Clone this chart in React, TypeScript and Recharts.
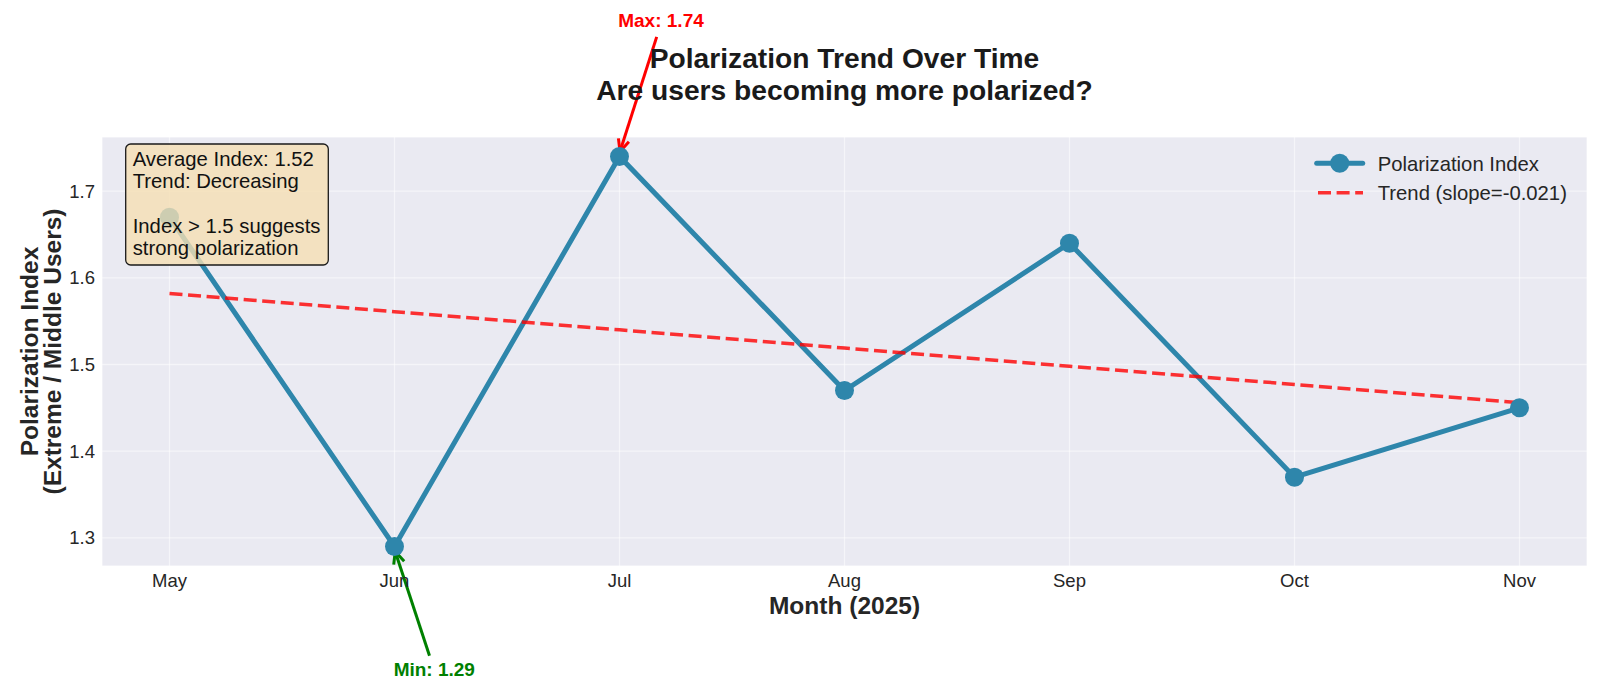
import React from 'react';
import { ComposedChart, Line, XAxis, YAxis, CartesianGrid, Legend, ReferenceDot } from 'recharts';

const months = ['May', 'Jun', 'Jul', 'Aug', 'Sep', 'Oct', 'Nov'];
const polarizationIndex = [1.67, 1.29, 1.74, 1.47, 1.64, 1.37, 1.45];
const trendValues = [1.582, 1.561, 1.54, 1.519, 1.498, 1.477, 1.456];
const xTicks = [0, 1, 2, 3, 4, 5, 6];
const yTicks = [1.3, 1.4, 1.5, 1.6, 1.7];
const titleLines = ['Polarization Trend Over Time', 'Are users becoming more polarized?'];
const yLabelLines = ['Polarization Index', '(Extreme / Middle Users)'];
const xLabelText = 'Month (2025)';
const infoLines = ['Average Index: 1.52', 'Trend: Decreasing', '', 'Index > 1.5 suggests', 'strong polarization'];
const legendLabels = ['Polarization Index', 'Trend (slope=-0.021)'];
const maxLabel = 'Max: 1.74';
const minLabel = 'Min: 1.29';

const data = months.map((m, i) => ({ x: i, month: m, value: polarizationIndex[i], trend: trendValues[i] }));
const maxIdx = polarizationIndex.indexOf(Math.max(...polarizationIndex));
const minIdx = polarizationIndex.indexOf(Math.min(...polarizationIndex));

const FONT = '"Liberation Sans", Arial, sans-serif';
const BLUE = '#2E86AB';
const TEXT = '#262626';

function makeAnnotation(label: string, color: string, textOff: number[], tailOff: number[], tipOff: number[]) {
  return (p: any) => {
    const cx = p.cx, cy = p.cy;
    if (cx == null || cy == null) return <g />;
    const hx = cx + tipOff[0], hy = cy + tipOff[1];
    const tx = cx + tailOff[0], ty = cy + tailOff[1];
    const ang = Math.atan2(hy - ty, hx - tx);
    const L = 12, W = 5.5;
    const bx = hx - L * Math.cos(ang), by = hy - L * Math.sin(ang);
    const px = -Math.sin(ang) * W, py = Math.cos(ang) * W;
    return (
      <g>
        <line x1={tx} y1={ty} x2={hx} y2={hy} stroke={color} strokeWidth={3} />
        <path d={`M${bx + px},${by + py} L${hx},${hy} L${bx - px},${by - py}`} fill="none" stroke={color} strokeWidth={3} />
        <text x={cx + textOff[0]} y={cy + textOff[1]} textAnchor="middle" dominantBaseline="central"
          fontFamily={FONT} fontWeight="bold" fontSize={19} fill={color}>{label}</text>
      </g>
    );
  };
}

const LegendContent = () => (
  <svg width={300} height={60} style={{ overflow: 'visible' }}>
    <line x1={16.7} y1={15.3} x2={62.7} y2={15.3} stroke={BLUE} strokeWidth={5} strokeLinecap="round" />
    <circle cx={39.7} cy={15.3} r={9.5} fill={BLUE} />
    <text x={77.7} y={22.5} fontFamily={FONT} fontSize={20.3} fill={TEXT}>{legendLabels[0]}</text>
    <line x1={18} y1={44.7} x2={63} y2={44.7} stroke="#FF0000" strokeOpacity={0.8} strokeWidth={3.5} strokeDasharray="13 5.6" />
    <text x={77.7} y={51.9} fontFamily={FONT} fontSize={20.3} fill={TEXT}>{legendLabels[1]}</text>
  </svg>
);

const XLabel = (props: any) => {
  const vb = props.viewBox || { x: 102, y: 566, width: 1485, height: 30 };
  return (
    <text x={vb.x + vb.width / 2} y={vb.y + 48} textAnchor="middle" fontFamily={FONT} fontWeight="bold" fontSize={24.5} fill={TEXT}>
      {xLabelText}
    </text>
  );
};

const YLabel = (props: any) => {
  const vb = props.viewBox || { x: 40, y: 137, width: 62, height: 429 };
  const cy = vb.y + vb.height / 2;
  const xs = [vb.x - 2, vb.x + 21];
  return (
    <g>
      {yLabelLines.map((t, i) => (
        <text key={i} x={xs[i]} y={cy} transform={`rotate(-90, ${xs[i]}, ${cy})`} textAnchor="middle"
          fontFamily={FONT} fontWeight="bold" fontSize={24.5} fill={TEXT}>{t}</text>
      ))}
    </g>
  );
};

export default function App() {
  return (
    <div style={{ position: 'absolute', left: 0, top: 0, width: 1600, height: 693, background: '#fff' }}>
      <ComposedChart width={1600} height={693} data={data} margin={{ top: 137, right: 13, bottom: 97, left: 40 }}>
        <CartesianGrid fill="#EAEAF2" stroke="#FFFFFF" strokeOpacity={0.5} strokeWidth={1.3} />
        <XAxis dataKey="x" type="number" domain={[-0.3, 6.3]} ticks={xTicks} allowDataOverflow
          tickFormatter={(v: number) => months[v]} axisLine={false} tickLine={false} height={30}
          tick={{ fill: TEXT, fontSize: 18.5, fontFamily: FONT }} label={{ content: XLabel } as any} />
        <YAxis type="number" domain={[1.2675, 1.7625]} ticks={yTicks} allowDataOverflow width={62}
          tickFormatter={(v: number) => v.toFixed(1)} axisLine={false} tickLine={false} tickMargin={1}
          tick={{ fill: TEXT, fontSize: 18.5, fontFamily: FONT }} label={{ content: YLabel } as any} />
        <Line type="linear" dataKey="value" stroke={BLUE} strokeWidth={5} isAnimationActive={false}
          dot={{ r: 9.5, fill: BLUE, stroke: BLUE, strokeWidth: 0 }} activeDot={false} />
        <Line type="linear" dataKey="trend" stroke="#FF0000" strokeOpacity={0.8} strokeWidth={3.5}
          strokeDasharray="13 5.6" dot={false} activeDot={false} isAnimationActive={false} />
        <ReferenceDot x={maxIdx} y={polarizationIndex[maxIdx]} r={0} ifOverflow="visible"
          shape={makeAnnotation(maxLabel, '#FF0000', [41.5, -135.6], [37.2, -119.6], [0.5, -5])} />
        <ReferenceDot x={minIdx} y={polarizationIndex[minIdx]} r={0} ifOverflow="visible"
          shape={makeAnnotation(minLabel, '#008000', [39.8, 123.3], [35, 109.3], [0.7, 5])} />
        <Legend layout="horizontal" verticalAlign="middle" align="center" content={LegendContent}
          wrapperStyle={{ left: 1300, top: 148, width: 300, height: 60 }} />
      </ComposedChart>
      <svg width={1600} height={693} style={{ position: 'absolute', left: 0, top: 0, pointerEvents: 'none' }}>
        {titleLines.map((t, i) => (
          <text key={i} x={844.5} y={68.3 + i * 31.7} textAnchor="middle" fontFamily={FONT} fontWeight="bold"
            fontSize={28.2} fill="#1a1a1a">{t}</text>
        ))}
        <rect x={125.7} y={144} width={202.6} height={121} rx={5} ry={5} fill="wheat" fillOpacity={0.8}
          stroke="#1a1a1a" strokeWidth={1.3} />
        {infoLines.map((t, i) => (
          <text key={i} x={132.7} y={165.7 + i * 22.4} fontFamily={FONT} fontSize={20.3} fill="#111">{t}</text>
        ))}
      </svg>
    </div>
  );
}
